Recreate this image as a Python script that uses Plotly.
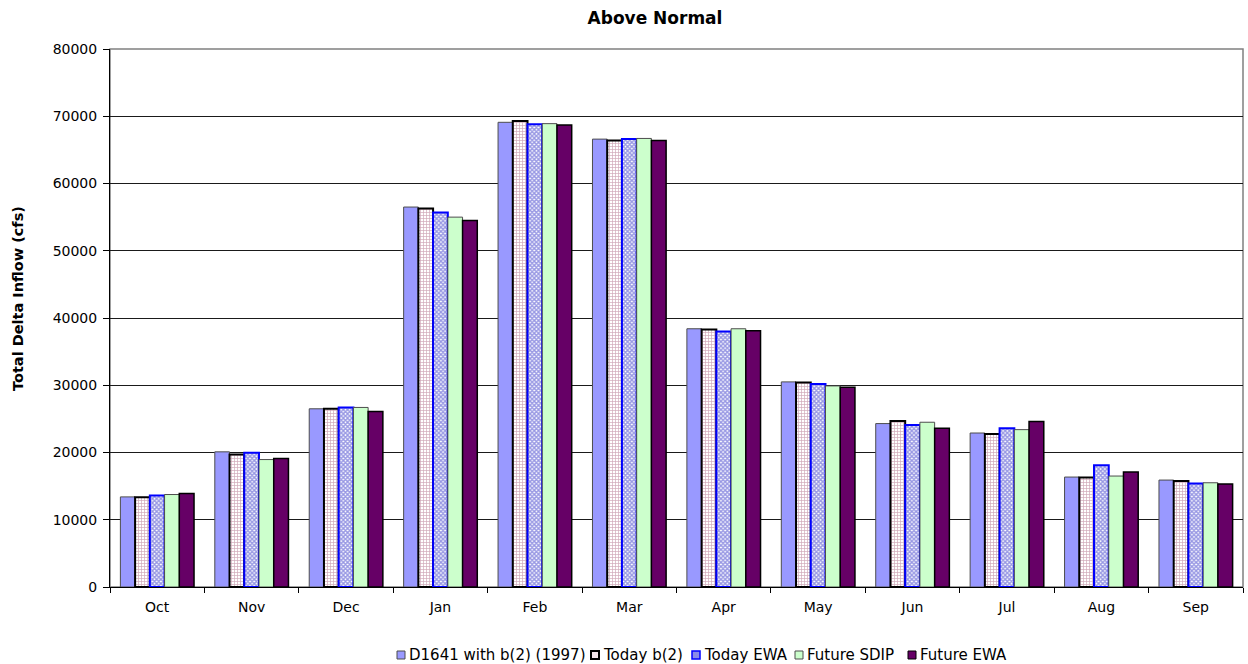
import plotly.graph_objects as go

months = ["Oct", "Nov", "Dec", "Jan", "Feb", "Mar", "Apr", "May", "Jun", "Jul", "Aug", "Sep"]

d1641_b2_1997 = [13400, 20100, 26500, 56500, 69100, 66600, 38400, 30500, 24300, 22900, 16350, 15900]
today_b2 = [13350, 19700, 26500, 56300, 69300, 66400, 38300, 30400, 24700, 22750, 16300, 15750]
today_ewa = [13600, 19950, 26700, 55700, 68800, 66600, 38000, 30200, 24100, 23600, 18100, 15400]
future_sdip = [13750, 18950, 26700, 55000, 68900, 66700, 38400, 29900, 24500, 23400, 16500, 15500]
future_ewa = [13900, 19100, 26100, 54500, 68700, 66400, 38100, 29700, 23600, 24600, 17100, 15300]

series_names = ["D1641 with b(2) (1997)", "Today b(2)", "Today EWA", "Future SDIP", "Future EWA"]
y_ticks = [0, 10000, 20000, 30000, 40000, 50000, 60000, 70000, 80000]

FONT = "DejaVu Sans, Verdana, sans-serif"
W, H = 1248, 664
ML, MR, MT, MB = 110, 5, 49, 77
PW, PH = W - ML - MR, H - MT - MB

styles = [
    dict(color="#9999FF", line=dict(color="#4d4d4d", width=1)),
    dict(color="#FFFFFF", line=dict(color="#000000", width=2),
         pattern=dict(shape="+", fgcolor="#a05070", bgcolor="#FFFFFF", size=3, solidity=0.4)),
    dict(color="#FFFFFF", line=dict(color="#0000FF", width=2),
         pattern=dict(shape="x", fgcolor="#3030c8", bgcolor="#FFFFFF", size=3, solidity=0.7)),
    dict(color="#CCFFCC", line=dict(color="#4d4d4d", width=1)),
    dict(color="#660066", line=dict(color="#000000", width=1.5)),
]
# legend swatch styles (fill, border colour, border width)
swatches = [("#9999FF", "#4d4d4d", 1), ("#f3e3ea", "#000000", 2), ("#8a8ae8", "#0000FF", 1.5),
            ("#CCFFCC", "#4d4d4d", 1), ("#660066", "#000000", 1)]
legend_text_px = [407, 601, 702, 805, 918]   # left edge of each legend label, px
legend_y_px = 655

data = [d1641_b2_1997, today_b2, today_ewa, future_sdip, future_ewa]

fig = go.Figure()
for name, vals, st in zip(series_names, data, styles):
    fig.add_trace(go.Bar(x=months, y=vals, name=name, marker=st, showlegend=False))


def px_x(p):
    return (p - ML) / PW


def px_y(p):
    return (H - MB - p) / PH


shapes = [dict(type="rect", xref="paper", yref="paper", x0=0, x1=1, y0=0, y1=1,
               line=dict(color="#808080", width=1.5), layer="below")]
annotations = []
for name, tx, (fill, border, bw) in zip(series_names, legend_text_px, swatches):
    shapes.append(dict(type="rect", xref="paper", yref="paper",
                       x0=px_x(tx - 10), x1=px_x(tx - 2),
                       y0=px_y(legend_y_px + 4), y1=px_y(legend_y_px - 4),
                       fillcolor=fill, line=dict(color=border, width=bw)))
    annotations.append(dict(text=name, xref="paper", yref="paper", x=px_x(tx), y=px_y(legend_y_px),
                            xanchor="left", yanchor="middle", showarrow=False,
                            font=dict(family=FONT, size=15, color="black")))

annotations.append(dict(text="<b>Total Delta Inflow (cfs)</b>", xref="paper", yref="paper",
                        x=px_x(18), y=px_y(298), xanchor="center", yanchor="middle",
                        textangle=-90, showarrow=False,
                        font=dict(family=FONT, size=14.5, color="black")))

fig.update_layout(
    width=W, height=H,
    barmode="group", bargap=0.22, bargroupgap=0,
    paper_bgcolor="white", plot_bgcolor="white",
    margin=dict(l=ML, r=MR, t=MT, b=MB),
    font=dict(family=FONT, size=14, color="black"),
    title=dict(text="<b>Above Normal</b>", x=655 / W, xanchor="center", y=0.973, yanchor="middle",
               font=dict(family=FONT, size=17, color="black")),
    showlegend=False,
    shapes=shapes,
    annotations=annotations,
)

fig.update_xaxes(
    automargin=False,
    showline=True, linecolor="black", linewidth=1,
    ticks="outside", tickson="boundaries", ticklen=5, tickcolor="black",
    showgrid=False, tickfont=dict(size=14), ticklabelstandoff=7,
)
fig.update_yaxes(
    automargin=False,
    range=[0, 80000], tickvals=y_ticks, tickformat="d",
    showline=True, linecolor="black", linewidth=1,
    ticks="outside", ticklen=6, tickcolor="black",
    showgrid=True, gridcolor="#1a1a1a", gridwidth=1,
    zeroline=False, ticklabelstandoff=3,
    tickfont=dict(size=14),
)

fig.write_html("out.html", config={"displayModeBar": False},
               post_script="document.body.style.margin='0';document.body.style.overflow='hidden';")
